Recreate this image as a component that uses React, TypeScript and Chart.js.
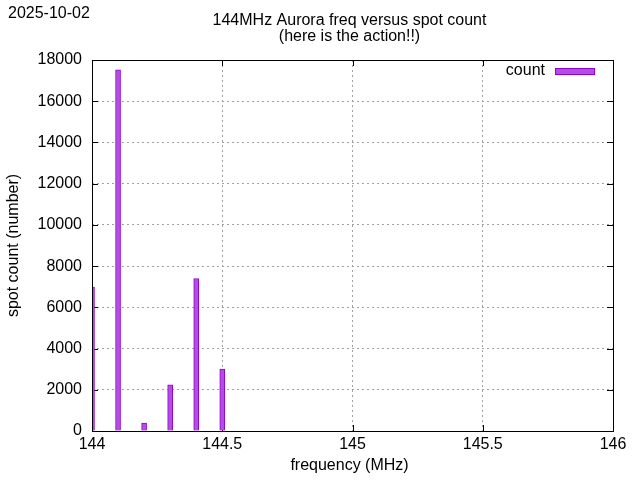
import React, { useEffect, useRef } from "react";
import { Chart, registerables } from "chart.js";

Chart.register(...registerables);

const frequencies = [144.0, 144.1, 144.2, 144.3, 144.4, 144.5];
const counts = [6980, 17520, 390, 2240, 7400, 3000];
const yTicks = [0, 2000, 4000, 6000, 8000, 10000, 12000, 14000, 16000, 18000];
const xTicks = [144, 144.5, 145, 145.5, 146];
const titleLines = ["144MHz Aurora freq versus spot count", "(here is the action!!)"];
const dateLabel = "2025-10-02";
const xTitle = "frequency (MHz)";
const yTitle = "spot count (number)";
const seriesName = "count";

const FONT = '"Liberation Sans", Arial, sans-serif';
const FONT_SIZE = 16;
const FILL = "#b44ee0";
const EDGE = "#9400d3";

const decorPlugin = {
  id: "gnuplotDecor",
  beforeDatasetsDraw(chart: any) {
    const { ctx, chartArea: a } = chart;
    ctx.save();
    ctx.strokeStyle = "#000";
    ctx.lineWidth = 1;
    const ys = chart.scales.y;
    const xs = chart.scales.x;
    ctx.beginPath();
    yTicks.forEach((v) => {
      const py = Math.round(ys.getPixelForValue(v)) + 0.5;
      ctx.moveTo(a.left, py);
      ctx.lineTo(a.left + 6, py);
      ctx.moveTo(a.right, py);
      ctx.lineTo(a.right - 6, py);
    });
    xTicks.forEach((v) => {
      const px = Math.round(xs.getPixelForValue(v)) + 0.5;
      ctx.moveTo(px, a.bottom);
      ctx.lineTo(px, a.bottom - 6);
      ctx.moveTo(px, a.top);
      ctx.lineTo(px, a.top + 6);
    });
    ctx.stroke();
    ctx.restore();
  },
  afterDraw(chart: any) {
    const { ctx, chartArea: a } = chart;
    ctx.save();
    ctx.strokeStyle = "#000";
    ctx.lineWidth = 1;
    ctx.strokeRect(Math.round(a.left) + 0.5, Math.round(a.top) + 0.5, Math.round(a.right - a.left), Math.round(a.bottom - a.top));

    ctx.fillStyle = "#000";
    ctx.font = `${FONT_SIZE}px ${FONT}`;
    ctx.textBaseline = "middle";
    ctx.textAlign = "left";
    ctx.fillText(dateLabel, 8, 14);
    ctx.textAlign = "center";
    const cx = (a.left + a.right) / 2;
    ctx.fillText(titleLines[0], cx - 3, 21);
    ctx.fillText(titleLines[1], cx - 3, 37);
    ctx.fillText(xTitle, cx - 3, 466);
    ctx.save();
    ctx.translate(14, (a.top + a.bottom) / 2);
    ctx.rotate(-Math.PI / 2);
    ctx.fillText(yTitle, 0, 0);
    ctx.restore();
    ctx.textAlign = "right";
    ctx.fillText(seriesName, 545, 71);
    ctx.fillStyle = FILL;
    ctx.fillRect(555, 68, 40, 7);
    ctx.strokeStyle = EDGE;
    ctx.strokeRect(555.5, 68.5, 39, 6);
    ctx.restore();
  },
};

export default function App() {
  const ref = useRef<HTMLCanvasElement | null>(null);

  useEffect(() => {
    document.body.style.margin = "0";
    const canvas = ref.current!;
    const chart = new Chart(canvas, {
      type: "bar",
      data: {
        datasets: [
          {
            label: seriesName,
            data: frequencies.map((f, i) => ({ x: f, y: counts[i] })),
            backgroundColor: FILL,
            borderColor: EDGE,
            borderWidth: 1,
            barThickness: 5,
            clip: 0 as any,
          },
        ],
      },
      options: {
        animation: false,
        responsive: false,
        devicePixelRatio: 1,
        layout: { padding: { top: 60, right: 27, left: 0, bottom: 0 } },
        plugins: {
          legend: { display: false },
          tooltip: { enabled: false },
          title: { display: false },
        },
        scales: {
          x: {
            type: "linear",
            min: 144,
            max: 146,
            offset: false,
            afterBuildTicks: (scale: any) => {
              scale.ticks = xTicks.map((v) => ({ value: v }));
            },
            afterFit: (scale: any) => {
              scale.height = 49;
            },
            ticks: {
              callback: (v: any) => String(v),
              color: "#000",
              font: { family: FONT, size: FONT_SIZE },
              padding: 4,
              maxRotation: 0,
              autoSkip: false,
            },
            grid: {
              offset: false,
              color: (c: any) => (c.tick && (c.tick.value === 144 || c.tick.value === 146) ? "rgba(0,0,0,0)" : "#a0a0a0"),
              lineWidth: 1,
              drawTicks: false,
            },
            border: { display: false, dash: [2, 3] },
          },
          y: {
            type: "linear",
            min: 0,
            max: 18000,
            afterBuildTicks: (scale: any) => {
              scale.ticks = yTicks.map((v) => ({ value: v }));
            },
            afterFit: (scale: any) => {
              scale.width = 92;
            },
            ticks: {
              callback: (v: any) => String(v),
              color: "#000",
              font: { family: FONT, size: FONT_SIZE },
              padding: 10,
              autoSkip: false,
            },
            grid: {
              color: (c: any) => (c.tick && (c.tick.value === 0 || c.tick.value === 18000) ? "rgba(0,0,0,0)" : "#a0a0a0"),
              lineWidth: 1,
              drawTicks: false,
            },
            border: { display: false, dash: [2, 3] },
          },
        },
      },
      plugins: [decorPlugin],
    } as any);
    return () => chart.destroy();
  }, []);

  return (
    <div style={{ position: "absolute", left: 0, top: 0, width: 640, height: 480 }}>
      <canvas ref={ref} width={640} height={480} style={{ width: 640, height: 480, display: "block" }} />
    </div>
  );
}
